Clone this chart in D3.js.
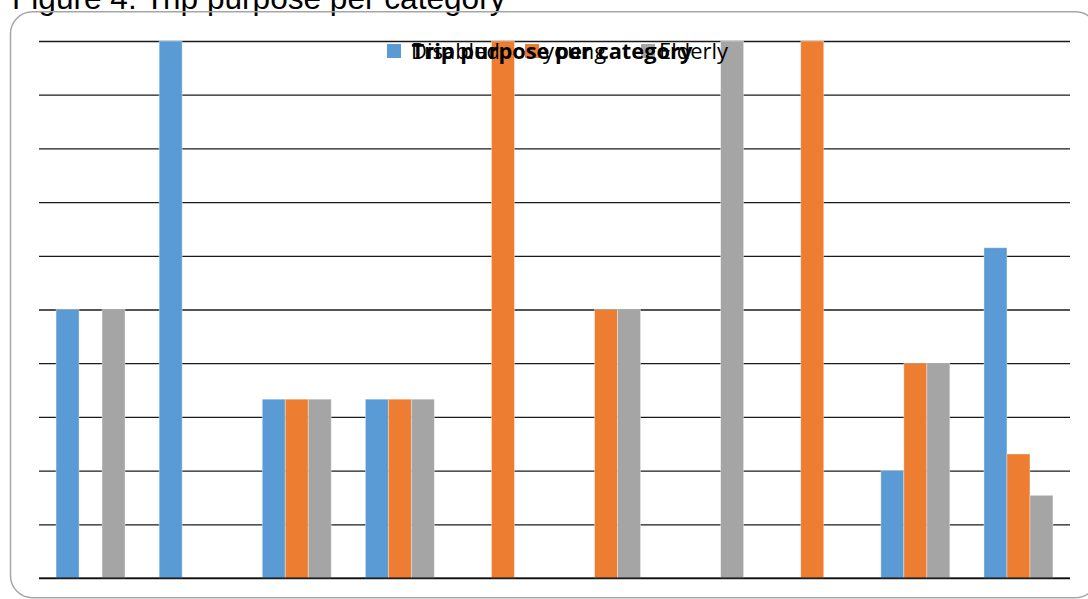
<!DOCTYPE html>
<html>
<head>
<meta charset="utf-8">
<script src="https://cdn.jsdelivr.net/npm/d3@7"></script>
<style>
  html, body { margin: 0; padding: 0; background: #fff; }
  svg { display: block; }
</style>
</head>
<body>
<svg id="chart" width="1088" height="599"></svg>
<script>
// ---- data ----
const figureTitle = "Figure 4: Trip purpose per category";
const chartTitle = "Trip purpose per category";
const categories = ["Purpose 1", "Purpose 2", "Purpose 3", "Purpose 4", "Purpose 5",
                    "Purpose 6", "Purpose 7", "Purpose 8", "Purpose 9", "Purpose 10"];
const seriesNames = ["Disabled", "young", "Elderly"];
const disabled = [50, 100, 33.3, 33.3, 0, 0, 0, 0, 20, 61.5];
const young    = [0, 0, 33.3, 33.3, 100, 50, 0, 100, 40, 23.1];
const elderly  = [50, 0, 33.3, 33.3, 0, 50, 100, 0, 40, 15.4];
const yTicks = [0, 10, 20, 30, 40, 50, 60, 70, 80, 90, 100];
const seriesColors = ["#5b9bd5", "#ed7d31", "#a5a5a5"];

// ---- layout ----
const svg = d3.select("#chart");
const plot = { left: 39, right: 1070, top: 41, bottom: 578 };
const seriesValues = [disabled, young, elderly];

const rows = categories.map((c, i) => ({
  category: c,
  values: seriesNames.map((s, j) => ({ series: s, value: seriesValues[j][i], idx: j }))
}));

// figure caption (cut at top)
svg.append("text")
  .attr("x", 12).attr("y", 8.5)
  .attr("font-family", "Liberation Sans, Arial, sans-serif")
  .attr("font-size", 31.6)
  .attr("fill", "#000")
  .text(figureTitle);

// chart frame
svg.append("rect")
  .attr("x", 10.5).attr("y", 11.75)
  .attr("width", 1087).attr("height", 586)
  .attr("rx", 22).attr("ry", 22)
  .attr("fill", "none")
  .attr("stroke", "#a6a6a6")
  .attr("stroke-width", 1.5);

const x0 = d3.scaleBand()
  .domain(categories)
  .range([plot.left, plot.right])
  .paddingInner(0.331)
  .paddingOuter(0.1655);

const x1 = d3.scaleBand()
  .domain(seriesNames)
  .range([0, x0.bandwidth()])
  .padding(0);

const y = d3.scaleLinear()
  .domain([0, 100])
  .range([plot.bottom, plot.top]);

const color = d3.scaleOrdinal().domain(seriesNames).range(seriesColors);

// gridlines
const yAxis = d3.axisLeft(y)
  .tickValues(yTicks)
  .tickSize(-(plot.right - plot.left))
  .tickFormat("");
const gGrid = svg.append("g")
  .attr("transform", `translate(${plot.left},0)`)
  .call(yAxis);
gGrid.select(".domain").remove();
gGrid.selectAll(".tick line")
  .attr("stroke", "#1a1a1a")
  .attr("stroke-width", 1.3);

// bars
const groups = svg.append("g").selectAll("g")
  .data(rows)
  .join("g")
  .attr("transform", d => `translate(${x0(d.category)},0)`);

groups.selectAll("rect")
  .data(d => d.values.filter(v => v.value > 0))
  .join("rect")
  .attr("x", d => x1(d.series))
  .attr("width", x1.bandwidth())
  .attr("y", d => y(d.value))
  .attr("height", d => y(0) - y(d.value))
  .attr("fill", d => color(d.series))
  .attr("stroke", "#ffffff")
  .attr("stroke-opacity", 0.45)
  .attr("stroke-width", 0.8);

// baseline on top
svg.append("line")
  .attr("x1", plot.left).attr("x2", plot.right)
  .attr("y1", y(0)).attr("y2", y(0))
  .attr("stroke", "#000")
  .attr("stroke-opacity", 0.7)
  .attr("stroke-width", 1.3);

// legend
const legendFont = "Open Sans, Noto Sans, sans-serif";
const legendX = [387, 525, 641];
const legend = svg.append("g");
const legendTexts = [];
seriesNames.forEach((s, i) => {
  legend.append("rect")
    .attr("x", legendX[i]).attr("y", 44)
    .attr("width", 14).attr("height", 14)
    .attr("fill", color(s));
  legendTexts.push(legend.append("text")
    .attr("x", legendX[i] + (i === 0 ? 24 : 18)).attr("y", 59)
    .attr("font-family", legendFont)
    .attr("font-size", 21)
    .attr("fill", "#000")
    .text(s));
});
// size legend text so "Disabled" spans about 89px
const lw = legendTexts[0].node().getComputedTextLength();
const lsize = 21 * 89 / lw;
legendTexts.forEach(t => t.attr("font-size", lsize));

// chart title (overlapping legend, as in the original)
const t = svg.append("text")
  .attr("x", 552).attr("y", 59)
  .attr("text-anchor", "middle")
  .attr("font-family", legendFont)
  .attr("font-weight", "bold")
  .attr("font-size", 22)
  .attr("fill", "#000")
  .text(chartTitle);
const w = t.node().getComputedTextLength();
t.attr("font-size", 22 * 281 / w);
</script>
</body>
</html>
